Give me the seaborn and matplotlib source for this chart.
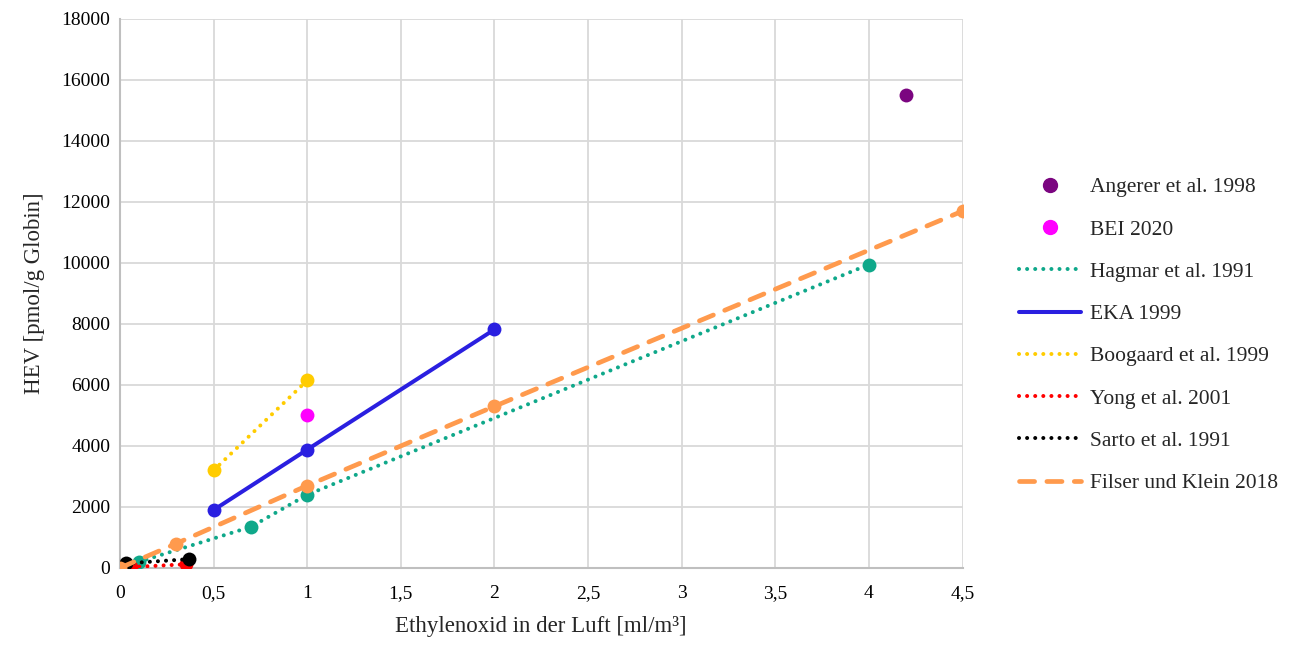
import matplotlib
matplotlib.use('Agg')
import matplotlib.pyplot as plt
import seaborn as sns
from matplotlib.lines import Line2D
from matplotlib.ticker import FuncFormatter, MultipleLocator

# data
angerer_x = [4.2]
angerer_y = [15500]
bei_x = [1.0]
bei_y = [5000]
hagmar_x = [0.1, 0.7, 1.0, 4.0]
hagmar_y = [200, 1350, 2400, 9950]
eka_x = [0.5, 1.0, 2.0]
eka_y = [1900, 3880, 7820]
boogaard_x = [0.5, 1.0]
boogaard_y = [3200, 6150]
yong_x = [0.06, 0.35]
yong_y = [30, 120]
sarto_x = [0.03, 0.37]
sarto_y = [150, 290]
filser_x = [0.0, 0.3, 1.0, 2.0, 4.5]
filser_y = [0, 800, 2700, 5300, 11700]

sns.set_style('whitegrid')
plt.rcParams['font.family'] = ['Liberation Serif', 'DejaVu Serif']

fig = plt.figure(figsize=(12.93, 6.48), dpi=100)
ax = fig.add_axes([0.0928, 0.1235, 0.6516, 0.8472])

dot = (0, (0.01, 2.0))
lw = 2.9
ms = 10

lines = [
    ('Hagmar et al. 1991', hagmar_x, hagmar_y, '#0fa88a', dot),
    ('EKA 1999', eka_x, eka_y, '#2a1fe0', '-'),
    ('Boogaard et al. 1999', boogaard_x, boogaard_y, '#ffcc00', dot),
    ('Yong et al. 2001', yong_x, yong_y, '#ff0000', dot),
    ('Sarto et al. 1991', sarto_x, sarto_y, '#000000', dot),
    ('Filser und Klein 2018', filser_x, filser_y, '#ff9a4d', (0, (3.2, 2.6))),
]

for name, xs, ys, col, ls in lines:
    w = 3.4 if name.startswith('Filser') else lw
    sns.lineplot(x=xs, y=ys, ax=ax, color=col, linestyle=ls, linewidth=w,
                 marker='o', markersize=ms, markeredgewidth=0,
                 dash_capstyle='round', solid_capstyle='round', zorder=3)

sns.scatterplot(x=angerer_x, y=angerer_y, ax=ax, color='#7b0580', s=ms**2,
                linewidth=0, zorder=4)
sns.scatterplot(x=bei_x, y=bei_y, ax=ax, color='#ff00ff', s=ms**2,
                linewidth=0, zorder=4)

ax.set_xlim(0, 4.5)
ax.set_ylim(0, 18000)
ax.xaxis.set_major_locator(MultipleLocator(0.5))
ax.yaxis.set_major_locator(MultipleLocator(2000))
ax.xaxis.set_major_formatter(FuncFormatter(lambda v, p: ('%g' % v).replace('.', ',')))
ax.grid(True, color='#d9d9d9', linewidth=1.3)
for s in ['top', 'right']:
    ax.spines[s].set_visible(False)
for s in ['left', 'bottom']:
    ax.spines[s].set_color('#bfbfbf')
    ax.spines[s].set_linewidth(1.5)
ax.tick_params(labelsize=14, length=0, colors='black')
ax.tick_params(axis='x', pad=12)
ax.tick_params(axis='y', pad=7)
ax.set_xlabel('Ethylenoxid in der Luft [ml/m³]', fontsize=16.5, labelpad=10)
ax.set_ylabel('HEV [pmol/g Globin]', fontsize=16.5, labelpad=12)

handles = [
    Line2D([], [], linestyle='none', marker='o', markersize=ms, color='#7b0580'),
    Line2D([], [], linestyle='none', marker='o', markersize=ms, color='#ff00ff'),
]
labels = ['Angerer et al. 1998', 'BEI 2020']
for name, xs, ys, col, ls in lines:
    w = 3.4 if name.startswith('Filser') else lw
    handles.append(Line2D([], [], color=col, linestyle=ls, linewidth=w,
                          dash_capstyle='round', solid_capstyle='round'))
    labels.append(name)

ax.legend(handles, labels, loc='center left', bbox_to_anchor=(1.044, 0.424),
          frameon=False, fontsize=15.5, handlelength=2.9, handletextpad=0.4,
          labelspacing=1.03)

fig.savefig('out.png', dpi=100)
